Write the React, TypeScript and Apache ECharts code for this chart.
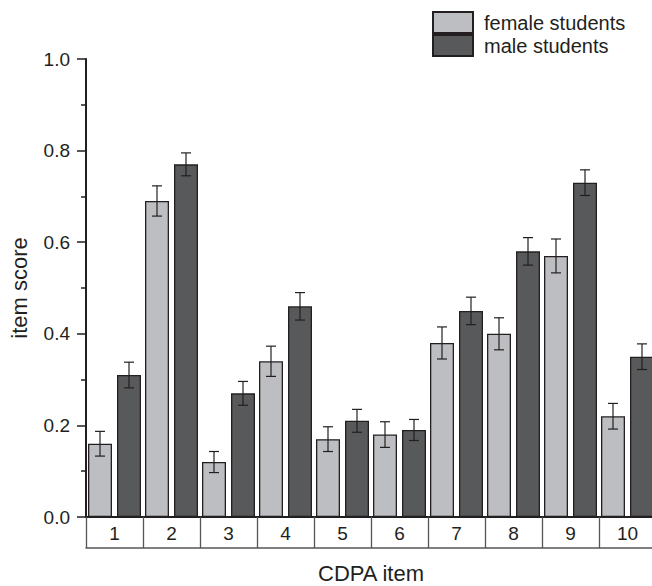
import React, { useEffect, useRef } from "react";
import * as echarts from "echarts";

const categories = ["1", "2", "3", "4", "5", "6", "7", "8", "9", "10"];
const femaleScores = [0.16, 0.69, 0.12, 0.34, 0.17, 0.18, 0.38, 0.4, 0.57, 0.22];
const maleScores = [0.31, 0.77, 0.27, 0.46, 0.21, 0.19, 0.45, 0.58, 0.73, 0.35];
const femaleErrors = [0.027, 0.033, 0.023, 0.033, 0.027, 0.028, 0.035, 0.035, 0.037, 0.028];
const maleErrors = [0.028, 0.025, 0.026, 0.03, 0.025, 0.023, 0.03, 0.03, 0.028, 0.028];
const seriesNames = ["female students", "male students"];

const FONT = "'Liberation Sans', Arial, Helvetica, sans-serif";
const BAR_W = 24;
const BAR_GAP_PX = 5;

function errorSeries(values: number[], errors: number[], side: number) {
  return {
    type: "custom",
    z: 5,
    silent: true,
    data: values.map((v, i) => [i, v, errors[i]]),
    encode: { x: 0, y: 1 },
    renderItem: (params: any, api: any) => {
      const i = api.value(0);
      const v = api.value(1);
      const e = api.value(2);
      const off = side * (BAR_W / 2 + BAR_GAP_PX / 2);
      const top = api.coord([i, v + e]);
      const bot = api.coord([i, v - e]);
      const x = top[0] + off;
      const cap = 5;
      const style = { stroke: "#231f20", lineWidth: 1.2, fill: "none" };
      return {
        type: "group",
        children: [
          { type: "line", shape: { x1: x, y1: top[1], x2: x, y2: bot[1] }, style },
          { type: "line", shape: { x1: x - cap, y1: top[1], x2: x + cap, y2: top[1] }, style },
          { type: "line", shape: { x1: x - cap, y1: bot[1], x2: x + cap, y2: bot[1] }, style },
        ],
      };
    },
  };
}

export default function App() {
  const ref = useRef<HTMLDivElement>(null);
  useEffect(() => {
    if (!ref.current) return;
    const chart = echarts.init(ref.current, null, { renderer: "svg" });
    chart.setOption({
      animation: false,
      backgroundColor: "#ffffff",
      textStyle: { fontFamily: FONT },
      legend: {
        orient: "vertical",
        left: 432,
        top: 11,
        itemWidth: 40,
        itemHeight: 21,
        itemGap: 0,
        padding: 0,
        selectedMode: false,
        icon: "rect",
        data: seriesNames,
        textStyle: { fontSize: 20, color: "#231f20", fontFamily: FONT, padding: [0, 0, 0, 6] },
      },
      grid: {
        left: 86,
        top: 59,
        width: 570,
        height: 458,
        containLabel: false,
        outerBoundsMode: "none",
      },
      xAxis: [
        {
          type: "category",
          data: categories,
          name: "CDPA item",
          nameLocation: "middle",
          nameGap: 45,
          nameTextStyle: { fontSize: 22, color: "#231f20", fontFamily: FONT },
          axisLine: { show: true, lineStyle: { color: "#231f20", width: 2 } },
          axisTick: { show: true, alignWithLabel: false, length: 31, lineStyle: { color: "#555", width: 1.3 } },
          axisLabel: { fontSize: 19, color: "#231f20", margin: 7, fontFamily: FONT },
          splitLine: { show: false },
        },
        {
          type: "category",
          data: categories,
          position: "bottom",
          offset: 31,
          axisLine: { show: true, lineStyle: { color: "#555", width: 1.5 } },
          axisTick: { show: false },
          axisLabel: { show: false },
          splitLine: { show: false },
        },
      ],
      yAxis: {
        type: "value",
        min: 0,
        max: 1,
        interval: 0.2,
        name: "item score",
        nameLocation: "middle",
        nameGap: 56,
        nameTextStyle: { fontSize: 22, color: "#231f20", fontFamily: FONT },
        axisLine: { show: true, lineStyle: { color: "#231f20", width: 2 } },
        axisTick: { show: true, length: 9, lineStyle: { color: "#231f20", width: 1.5 } },
        minorTick: { show: true, splitNumber: 2, length: 5, lineStyle: { color: "#231f20", width: 1.5 } },
        axisLabel: {
          fontSize: 19,
          color: "#231f20",
          margin: 16,
          fontFamily: FONT,
          formatter: (v: number) => v.toFixed(1),
        },
        splitLine: { show: false },
      },
      series: [
        {
          name: seriesNames[0],
          type: "bar",
          data: femaleScores,
          barWidth: BAR_W,
          barGap: `${(BAR_GAP_PX / BAR_W) * 100}%`,
          itemStyle: { color: "#bdbec1", borderColor: "#231f20", borderWidth: 1.3 },
        },
        {
          name: seriesNames[1],
          type: "bar",
          data: maleScores,
          barWidth: BAR_W,
          barGap: `${(BAR_GAP_PX / BAR_W) * 100}%`,
          itemStyle: { color: "#58595b", borderColor: "#231f20", borderWidth: 1.3 },
        },
        errorSeries(femaleScores, femaleErrors, -1),
        errorSeries(maleScores, maleErrors, 1),
      ],
    });
    return () => chart.dispose();
  }, []);
  return (
    <div
      ref={ref}
      style={{ position: "fixed", left: 0, top: 0, width: 652, height: 586, background: "#fff" }}
    />
  );
}
